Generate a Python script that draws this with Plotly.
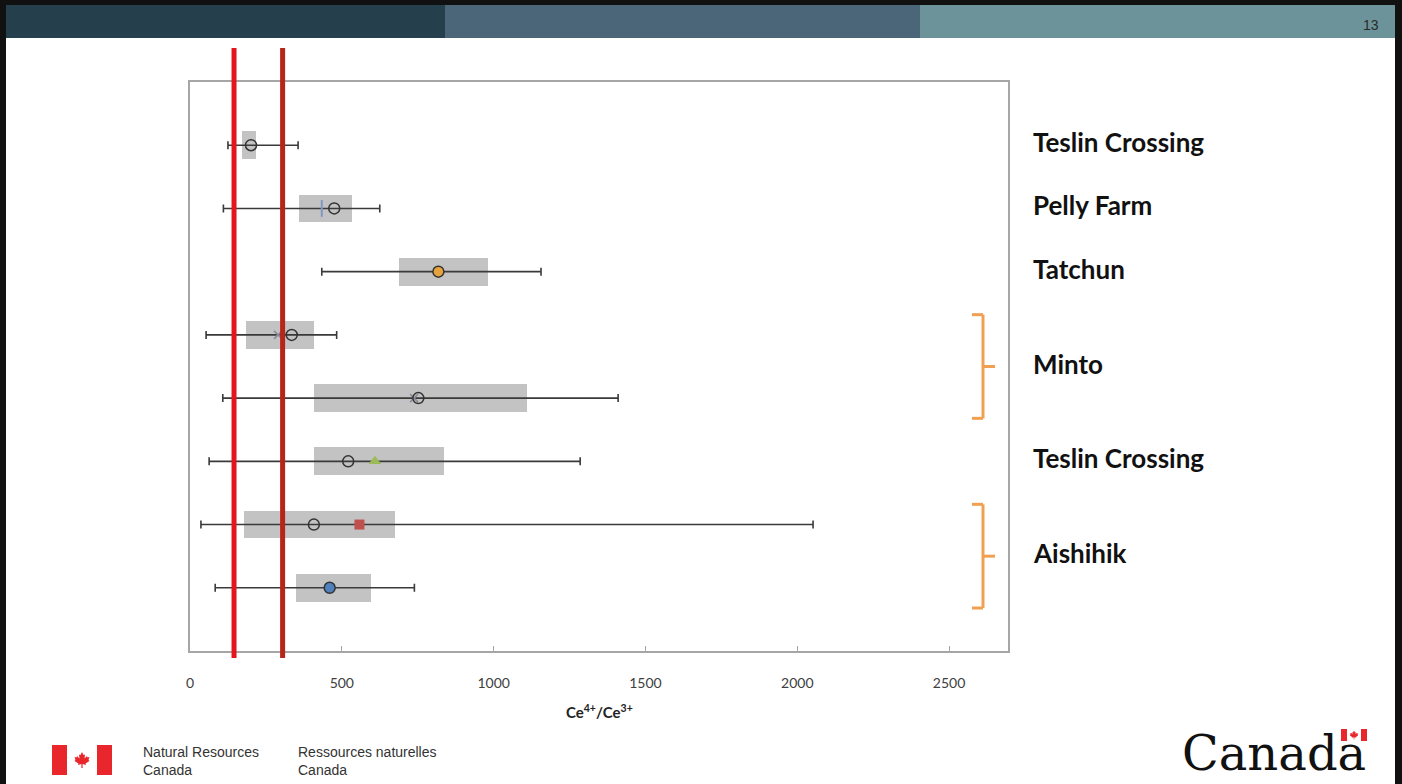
import plotly.graph_objects as go

# ---------------- data ----------------
rows = ["Teslin Crossing", "Pelly Farm", "Tatchun", "Minto (1)", "Minto (2)",
        "Teslin Crossing (2)", "Aishihik (1)", "Aishihik (2)"]
q1 = [171, 358, 688, 183, 410, 407, 179, 348]
q3 = [217, 534, 983, 410, 1111, 837, 676, 595]
w_lo = [125, 110, 434, 53, 108, 63, 36, 83]
w_hi = [356, 625, 1156, 483, 1410, 1285, 2052, 739]
median = [201, 475, 818, 335, 752, 521, 408, 460]
median_fill = ["rgba(0,0,0,0)", "rgba(0,0,0,0)", "#e6a23c", "rgba(0,0,0,0)",
               "rgba(0,0,0,0)", "rgba(0,0,0,0)", "rgba(0,0,0,0)", "#4f81bd"]

# extra sample markers (row index, value)
cross_rows = [3, 4]
cross_vals = [290, 738]
dash_rows = [1]
dash_vals = [434]
tri_rows = [5]
tri_vals = [609]
sq_rows = [6]
sq_vals = [558]

ref_lines = [145, 305]
ref_colors = ["#e3161c", "#b8241a"]

group_labels = ["Teslin Crossing", "Pelly Farm", "Tatchun", "Minto", "Teslin Crossing", "Aishihik"]
group_rows = [[0], [1], [2], [3, 4], [5], [6, 7]]

x_ticks = [0, 500, 1000, 1500, 2000, 2500]
x_title = "Ce<sup>4+</sup>/Ce<sup>3+</sup>"

# ---------------- layout helpers ----------------
W, H = 1402, 784
L, R, T, B = 190, 1008, 82, 651


def px(x):
    return (x - L) / (R - L)


def py(y):
    return (B - y) / (B - T)


n = len(rows)
ypos = [n - i for i in range(n)]

fig = go.Figure()

# boxes (interquartile)
fig.add_trace(go.Bar(
    y=ypos, x=[b - a for a, b in zip(q1, q3)], base=q1, orientation="h",
    width=0.44, marker=dict(color="#c3c3c3", line=dict(width=0)),
    hoverinfo="skip", showlegend=False))

# whiskers
fig.add_trace(go.Scatter(
    y=ypos, x=median, mode="markers", marker=dict(size=1, opacity=0),
    error_x=dict(type="data", symmetric=False,
                 array=[h - m for h, m in zip(w_hi, median)],
                 arrayminus=[m - l for m, l in zip(median, w_lo)],
                 color="#3a3a3a", thickness=1.6, width=4),
    showlegend=False, hoverinfo="skip"))

# extra markers
fig.add_trace(go.Scatter(
    y=[ypos[i] for i in cross_rows], x=cross_vals, mode="markers",
    marker=dict(symbol="x-thin", size=8, line=dict(color="#8a8a9a", width=1.5)),
    showlegend=False))
fig.add_trace(go.Scatter(
    y=[ypos[i] for i in dash_rows], x=dash_vals, mode="markers",
    marker=dict(symbol="line-ns", size=12, line=dict(color="#8097c4", width=2)),
    showlegend=False))
fig.add_trace(go.Scatter(
    y=[ypos[i] for i in tri_rows], x=tri_vals, mode="markers",
    marker=dict(symbol="triangle-up", size=11, color="#9bbb59", line=dict(width=0)),
    showlegend=False))
fig.add_trace(go.Scatter(
    y=[ypos[i] for i in sq_rows], x=sq_vals, mode="markers",
    marker=dict(symbol="square", size=10, color="#c0504d", line=dict(width=0)),
    showlegend=False))

# medians
fig.add_trace(go.Scatter(
    y=ypos, x=median, mode="markers",
    marker=dict(symbol="circle", size=11, color=median_fill,
                line=dict(color="#333333", width=1.5)),
    showlegend=False))

shapes = []
# reference lines
for v, c in zip(ref_lines, ref_colors):
    shapes.append(dict(type="line", xref="x", yref="paper", x0=v, x1=v,
                       y0=py(658), y1=py(48), line=dict(color=c, width=5), layer="above"))

# brackets
bx0, bx1, bx2 = px(972), px(983), px(995)
for lab, rs in zip(group_labels, group_rows):
    if len(rs) > 1:
        ytop = max(ypos[i] for i in rs) + 0.32
        ybot = min(ypos[i] for i in rs) - 0.32
        ymid = (ytop + ybot) / 2
        bl = dict(color="#f0a050", width=3)
        shapes += [
            dict(type="line", xref="paper", yref="y", x0=bx0, x1=bx1, y0=ytop, y1=ytop, line=bl),
            dict(type="line", xref="paper", yref="y", x0=bx1, x1=bx1, y0=ytop, y1=ybot, line=bl),
            dict(type="line", xref="paper", yref="y", x0=bx0, x1=bx1, y0=ybot, y1=ybot, line=bl),
            dict(type="line", xref="paper", yref="y", x0=bx1, x1=bx2, y0=ymid, y1=ymid, line=bl),
        ]


def rect(x0, y0, x1, y1, color):
    return dict(type="rect", xref="paper", yref="paper", x0=px(x0), x1=px(x1),
                y0=py(y1), y1=py(y0), fillcolor=color, line=dict(width=0), layer="above")


# slide banner & borders
shapes += [
    rect(0, 0, W, 5, "#111111"),
    rect(6, 5, 445, 38, "#253f4c"),
    rect(445, 5, 920, 38, "#4a6678"),
    rect(920, 5, 1395, 38, "#6c9399"),
    rect(0, 0, 6, H, "#111111"),
    rect(1395, 0, W, H, "#111111"),
]

# footer flag
shapes += [
    rect(52, 745, 67, 775, "#e8262b"),
    rect(97, 745, 112, 775, "#e8262b"),
    rect(1341, 729, 1347, 741, "#e8262b"),
    rect(1361, 729, 1367, 741, "#e8262b"),
]
leaf = [(0, -8), (1.5, -5), (3, -5.5), (2.5, -1.5), (5, -4), (5.5, -2.5), (7.5, -3), (6.5, 0),
        (7.5, 1), (3.5, 3.5), (4, 5), (0.6, 4), (0.6, 8), (-0.6, 8), (-0.6, 4), (-4, 5),
        (-3.5, 3.5), (-7.5, 1), (-6.5, 0), (-7.5, -3), (-5.5, -2.5), (-5, -4), (-2.5, -1.5),
        (-3, -5.5), (-1.5, -5)]


def leaf_path(cx, cy, s):
    pts = ["%s%.5f,%.5f" % ("M" if k == 0 else "L", px(cx + dx * s), py(cy + dy * s))
           for k, (dx, dy) in enumerate(leaf)]
    return " ".join(pts) + " Z"


shapes.append(dict(type="path", xref="paper", yref="paper", path=leaf_path(82, 760, 1.0),
                   fillcolor="#e8262b", line=dict(width=0), layer="above"))
shapes.append(dict(type="path", xref="paper", yref="paper", path=leaf_path(1354, 735, 0.55),
                   fillcolor="#e8262b", line=dict(width=0), layer="above"))

annotations = []
for lab, rs in zip(group_labels, group_rows):
    yc = sum(ypos[i] for i in rs) / len(rs)
    annotations.append(dict(x=px(1031), y=yc, xref="paper", yref="y", text="<b>%s</b>" % lab,
                            showarrow=False, xanchor="left", yanchor="middle", yshift=3,
                            font=dict(family="Lato", size=26, color="#111111")))

annotations.append(dict(x=px(599), y=py(711), xref="paper", yref="paper", text="<b>%s</b>" % x_title,
                        showarrow=False, xanchor="center", yanchor="middle",
                        font=dict(family="Lato", size=15, color="#222222")))
annotations.append(dict(x=px(1381), y=py(25), xref="paper", yref="paper", text="13",
                        showarrow=False, xanchor="right", yanchor="middle",
                        font=dict(family="Liberation Sans Narrow, Liberation Sans", size=14, color="#2a2a2a")))
annotations.append(dict(x=px(141), y=py(761), xref="paper", yref="paper",
                        text="Natural Resources<br>Canada", align="left",
                        showarrow=False, xanchor="left", yanchor="middle",
                        font=dict(family="Liberation Sans", size=14, color="#333333")))
annotations.append(dict(x=px(296), y=py(761), xref="paper", yref="paper",
                        text="Ressources naturelles<br>Canada", align="left",
                        showarrow=False, xanchor="left", yanchor="middle",
                        font=dict(family="Liberation Sans", size=14, color="#333333")))
annotations.append(dict(x=px(1180), y=py(753), xref="paper", yref="paper", text="Canada",
                        showarrow=False, xanchor="left", yanchor="middle",
                        font=dict(family="DejaVu Serif", size=48, color="#111111")))

fig.update_layout(
    width=W, height=H,
    margin=dict(l=L, r=W - R, t=T, b=H - B, pad=0),
    paper_bgcolor="white", plot_bgcolor="white",
    bargap=0, showlegend=False,
    xaxis=dict(range=[0, 2694], tickvals=x_ticks, ticks="inside", ticklen=5, tickcolor="#a6a6a6",
               showgrid=False, zeroline=False, showline=True, mirror=True,
               linecolor="#a6a6a6", linewidth=2, ticklabelstandoff=18,
               tickfont=dict(family="Lato", size=14, color="#404040")),
    yaxis=dict(range=[0, 9], showticklabels=False, ticks="", showgrid=False, zeroline=False,
               showline=True, mirror=True, linecolor="#a6a6a6", linewidth=2),
    shapes=shapes, annotations=annotations,
)

fig.write_html("out.html", config={"displayModeBar": False},
               post_script="document.body.style.margin='0';document.body.style.overflow='hidden';")
